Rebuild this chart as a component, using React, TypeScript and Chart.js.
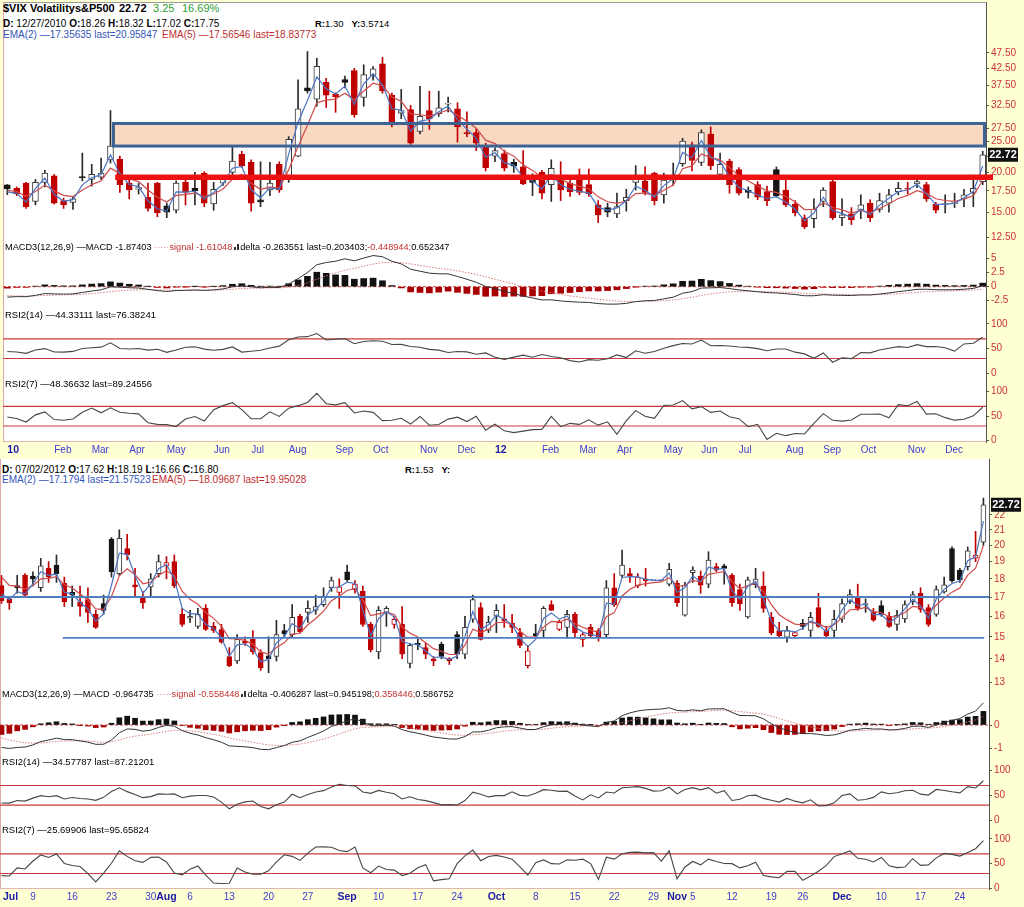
import React, { useEffect, useRef } from 'react';
import { Chart, registerables } from 'chart.js';

Chart.register(...registerables);

const FONT = '"Liberation Sans", Arial, Helvetica, sans-serif';
const RED = '#c00000';
const BLACK = '#151515';
const HOLLOW = '#3a3a3a';
const EMA2_COLOR = '#4a74c4';
const EMA5_COLOR = '#cf4a4a';
const TICK_RED = '#cc3333';
const TXT_RED = '#c03030';
const TXT_BLUE = '#3355bb';
const GREEN = '#2e9e2e';

// ================= TOP PANEL (weekly, 12/27/2010 .. 12/24/2012) =================
const topOpen = [18.26,17.8,18.5,16.2,18.6,19.5,16.3,16.1,19.4,19.0,
  19.3,21.9,22.0,18.5,17.7,16.7,18.5,15.7,15.2,18.6,
  17.8,19.9,15.9,18.5,20.0,22.8,21.5,16.4,17.6,21.2,
  19.5,22.5,36.9,34.0,38.4,35.2,39.2,41.8,34.4,40.4,
  43.9,35.0,30.7,31.5,26.9,31.3,30.6,32.8,31.7,26.7,
  26.7,24.2,22.5,22.9,21.5,20.8,19.0,20.0,18.3,19.0,
  18.5,19.0,18.3,15.8,15.5,14.8,16.3,18.6,18.8,19.9,
  17.0,19.2,21.3,24.4,21.5,26.4,19.7,21.7,20.4,17.6,
  18.3,17.4,20.4,17.6,15.9,14.4,14.3,16.2,18.7,14.4,
  14.8,15.2,16.0,15.3,16.0,17.4,17.75,18.4,18.3,15.9,
  15.85,15.95,16.5,17.3,18.7];
const topHigh = [18.32,18.0,18.6,19.0,20.3,19.7,16.6,16.7,23.0,21.2,
  22.2,31.3,22.5,19.2,18.5,18.5,18.6,16.0,18.8,18.9,
  20.0,20.1,18.6,19.3,24.0,23.3,21.9,21.6,21.5,21.6,
  25.9,39.1,48.0,45.7,39.5,35.6,40.2,42.5,43.6,43.0,
  46.0,35.5,36.5,32.5,37.3,36.0,36.0,34.5,33.1,31.0,
  27.5,24.7,23.9,23.5,22.0,23.4,19.8,20.3,21.9,21.6,
  19.0,20.5,20.5,16.3,16.0,17.2,17.7,21.0,20.8,20.0,
  19.9,21.4,25.6,24.9,27.2,27.8,23.0,22.0,20.7,18.0,
  18.7,18.1,20.8,19.0,16.3,14.7,16.5,17.9,19.0,16.5,
  15.5,17.0,16.4,17.2,17.7,18.6,18.6,19.1,18.6,16.1,
  17.0,17.2,17.7,19.6,23.3];
const topLow = [17.02,16.9,15.4,15.8,18.0,15.9,15.4,15.3,18.8,18.1,
  19.0,21.4,17.3,16.5,17.1,15.1,14.5,14.4,14.9,15.8,
  15.8,15.6,15.2,18.2,19.6,20.7,15.1,15.6,16.9,17.3,
  18.6,22.4,35.5,32.3,32.0,30.9,36.9,29.8,32.3,39.0,
  35.5,27.8,29.5,24.5,26.4,27.3,30.0,31.0,24.9,25.9,
  23.4,20.2,21.6,20.2,20.0,18.3,16.9,16.5,16.2,16.3,
  16.8,17.0,16.8,13.9,14.5,14.4,15.1,17.6,17.0,15.8,
  16.0,18.2,20.9,20.2,21.0,20.4,19.5,17.2,17.0,16.6,
  16.4,15.7,16.7,15.6,14.6,13.3,13.4,15.6,14.2,13.6,
  13.7,14.3,14.0,15.0,15.0,17.0,17.1,17.9,16.2,14.9,
  14.9,15.5,15.6,15.6,18.3];
const topClose = [17.75,17.1,15.6,18.6,19.9,16.0,15.8,16.5,19.2,19.7,
  19.9,24.2,18.3,17.6,17.9,15.4,14.9,15.0,18.5,17.3,
  17.5,16.0,17.7,19.0,21.7,21.0,16.0,16.15,18.5,17.6,
  25.4,31.7,36.1,43.1,35.0,34.6,38.4,30.4,40.6,42.3,
  36.1,28.7,31.3,24.7,30.0,29.5,31.9,33.0,27.8,26.4,
  24.7,20.7,23.4,20.6,20.9,18.4,18.6,17.2,20.6,17.6,
  17.4,17.3,17.15,14.7,15.0,15.6,16.7,19.0,17.3,16.3,
  18.9,19.6,25.1,21.8,26.7,21.0,21.2,18.3,17.2,17.3,
  16.7,16.3,16.9,15.8,14.9,13.5,15.3,17.6,14.4,14.7,
  14.2,15.8,14.4,16.3,17.0,17.8,17.7,18.7,16.5,15.2,
  15.9,16.0,17.0,17.8,22.72];
const topPriorClose = 16.5;
const topSeeds = { ema2: 17.35635, ema5: 17.56546, macd: -1.87403, signal: -1.61048, rsi14: 44.33111, rsi7: 48.36632 };
const topXTickIndex = [0,5,9,13,17,22,26,30,35,39,44,48,52,57,61,65,70,74,78,83,87,91,96,100];
const topXTickLabels = ['10','Feb','Mar','Apr','May','Jun','Jul','Aug','Sep','Oct','Nov','Dec','12','Feb','Mar','Apr','May','Jun','Jul','Aug','Sep','Oct','Nov','Dec'];
const topXTickBold = topXTickLabels.map(s => s === '10' || s === '12');
const topPriceTicks = [12.5,15,17.5,20,22.5,25,27.5,32.5,37.5,42.5,47.5];
const topMacdTicks = [-2.5,0,2.5,5];
const topZone = { low: 24.2, high: 28.5, fromIndex: 11.32 };
const topSupport = { value: 19.3, fromIndex: 11.5 };

// ================= BOTTOM PANEL (daily, 07/02/2012 .. 12/28/2012) =================
const botOpen = [17.62,16.9,17.62,18.2,18.15,17.5,18.6,18.8,17.75,17.25,
  16.74,16.86,16.1,16.65,20.4,18.3,19.8,17.67,17.0,17.55,
  18.3,18.75,19.0,16.1,15.9,15.5,16.4,15.5,15.35,14.1,
  13.9,14.8,14.88,14.27,14.13,14.1,15.3,15.1,16.0,16.2,
  16.3,16.6,17.5,17.25,18.4,17.4,17.3,15.6,14.3,16.2,
  15.6,15.6,13.8,14.7,14.5,14.0,14.65,14.0,15.1,14.2,
  15.85,16.45,15.3,16.0,15.87,15.66,15.2,13.7,15.15,15.3,
  16.6,15.35,15.45,16.1,14.88,15.45,15.3,15.1,17.5,18.2,
  18.3,17.6,18.0,17.9,17.9,17.7,17.75,16.05,18.35,18.15,
  17.7,18.7,18.75,18.2,17.4,15.97,17.67,17.6,15.95,15.3,
  14.98,15.05,15.65,15.3,16.45,15.3,15.3,15.85,16.75,17.0,
  16.6,16.2,16.55,16.0,15.6,15.87,16.75,17.2,16.45,16.1,
  17.27,19.8,18.5,18.7,19.2,20.2];
const botHigh = [18.19,17.0,18.2,18.3,18.4,19.2,19.0,19.4,18.1,17.6,
  17.6,17.5,16.3,17.1,20.5,21.0,20.7,18.6,17.3,18.3,
  19.4,19.3,19.4,16.4,16.3,16.4,16.6,15.7,15.6,14.5,
  15.1,15.0,15.3,14.4,15.0,15.8,15.6,16.6,16.1,16.8,
  17.1,17.5,18.1,18.0,18.8,17.9,17.6,15.7,16.5,16.5,
  16.0,16.5,14.7,14.9,14.7,14.1,14.75,14.05,15.25,16.0,
  17.1,16.7,16.0,16.6,16.6,16.1,15.4,14.6,15.6,16.5,
  16.8,15.8,16.3,16.2,15.2,15.6,15.4,17.9,18.3,19.7,
  18.6,18.3,18.6,17.9,17.9,18.9,17.9,17.8,18.7,18.45,
  19.6,18.9,18.85,18.3,17.7,18.1,18.6,18.4,16.2,15.7,
  15.5,15.2,15.85,16.2,17.2,15.5,16.3,16.9,17.4,17.7,
  16.9,16.4,16.8,16.2,16.3,16.8,17.3,17.5,16.6,17.6,
  18.1,19.9,18.6,19.9,20.9,23.2];
const botLow = [16.66,16.35,17.2,17.0,17.6,17.3,17.8,17.8,16.5,16.5,
  16.0,15.7,15.4,16.1,18.1,18.2,19.1,17.0,16.4,17.0,
  18.1,18.0,17.5,15.5,15.7,15.4,15.3,15.2,14.7,13.65,
  13.8,14.6,14.2,13.5,13.4,13.9,15.0,15.0,15.2,15.7,
  16.1,16.5,17.3,16.4,17.85,17.2,15.5,14.3,14.0,15.5,
  15.4,14.0,13.6,14.4,14.0,13.7,14.0,13.75,14.0,14.0,
  15.7,14.85,15.2,15.2,15.45,15.2,14.5,13.6,14.95,14.95,
  16.3,15.3,14.95,14.95,14.55,15.0,14.8,15.0,16.5,18.1,
  17.8,17.5,17.6,17.9,17.9,17.6,16.5,16.0,17.8,17.2,
  17.5,18.4,17.7,16.5,16.3,15.9,17.5,16.2,15.1,15.0,
  14.75,15.0,15.35,15.0,15.45,15.0,14.95,15.7,16.65,16.3,
  16.2,15.75,16.0,15.45,15.3,15.7,16.6,16.2,15.5,16.0,
  17.2,17.8,17.8,18.5,19.0,20.0];
const botClose = [16.80,16.7,17.5,17.1,18.0,18.75,18.1,18.3,16.75,17.13,
  16.5,16.2,15.45,16.3,18.4,20.45,19.4,17.55,16.7,18.0,
  19.0,18.95,17.6,15.6,16.0,16.1,15.35,15.3,14.75,13.7,
  14.88,14.7,14.3,13.6,14.0,15.1,15.15,15.95,15.25,16.4,
  16.5,17.0,17.9,17.55,17.95,17.7,15.6,14.4,16.3,16.4,
  15.85,14.2,14.6,14.62,14.2,13.9,14.1,13.9,14.2,15.45,
  16.86,14.88,15.7,16.3,15.75,15.45,14.6,14.35,15.05,16.4,
  16.3,15.7,16.1,15.2,15.1,15.05,15.0,17.5,16.6,18.8,
  18.15,18.1,17.9,17.9,17.9,18.55,16.7,17.65,18.5,17.65,
  19.1,18.5,18.6,16.7,16.65,17.95,17.98,16.4,15.2,15.05,
  15.3,15.2,15.5,15.95,15.5,15.05,15.85,16.65,17.13,16.4,
  16.65,15.8,16.1,15.5,16.05,16.6,17.13,16.35,15.6,17.4,
  17.67,17.9,17.95,19.65,19.4,22.72];
const botPriorClose = 17.08;
const botSeeds = { ema2: 17.1794, ema5: 18.09687, macd: -0.964735, signal: -0.558448, rsi14: 34.57787, rsi7: 25.69906 };
const botXTickIndex = [0,4,9,14,19,21,24,29,34,39,44,48,53,58,63,68,73,78,83,86,88,93,98,102,107,112,117,122];
const botXTickLabels = ['Jul','9','16','23','30','Aug','6','13','20','27','Sep','10','17','24','Oct','8','15','22','29','Nov','5','12','19','26','Dec','10','17','24'];
const botXTickBold = botXTickLabels.map(s => /^[A-Z]/.test(s));
const botPriceTicks = [13,14,15,16,17,18,19,20,21,22];
const botMacdTicks = [-1, 0];
const botLevels = [
  { value: 17.0, fromIndex: -0.19, toIndex: 125.71 },
  { value: 14.95, fromIndex: 7.8, toIndex: 125.1 },
];

const rsiTicks = [0, 50, 100];
const rsiBands = [30, 70];

// ================= indicator helpers =================
function emaSeries(src: number[], n: number, seed: number): number[] {
  const a = 2 / (n + 1);
  const out = [seed];
  for (let i = 1; i < src.length; i++) out.push(a * src[i] + (1 - a) * out[i - 1]);
  return out;
}
// simple (Cutler) RSI over an n-bar window; bars before the first one use the seeded balance
function rsiSeries(close: number[], n: number, seed: number): number[] {
  let s = 0;
  for (let i = 1; i <= n; i++) s += Math.abs(close[i] - close[i - 1]);
  s /= n;
  const g0 = (s * seed) / 100;
  const l0 = s - g0;
  const out = [seed];
  for (let i = 1; i < close.length; i++) {
    let g = 0, l = 0;
    for (let k = i - n + 1; k <= i; k++) {
      if (k < 1) { g += g0; l += l0; }
      else {
        const ch = close[k] - close[k - 1];
        if (ch > 0) g += ch; else l -= ch;
      }
    }
    out.push(g + l === 0 ? 50 : (100 * g) / (g + l));
  }
  return out;
}
function indicators(close: number[], seeds: any) {
  const ema2 = emaSeries(close, 2, seeds.ema2);
  const ema5 = emaSeries(close, 5, seeds.ema5);
  const e12 = emaSeries(close, 12, seeds.ema5);
  const e26 = emaSeries(close, 26, seeds.ema5 - seeds.macd);
  const macd = e12.map((v, i) => v - e26[i]);
  const signal = emaSeries(macd, 9, seeds.signal);
  const hist = macd.map((v, i) => v - signal[i]);
  return { ema2, ema5, macd, signal, hist, rsi14: rsiSeries(close, 14, seeds.rsi14), rsi7: rsiSeries(close, 7, seeds.rsi7) };
}

type Geom = { plotLeft: number; plotRight: number; xMin: number; xMax: number; bodyW: number };
const TOP_G: Geom = { plotLeft: 3, plotRight: 986, xMin: -0.46, xMax: 104.35, bodyW: 6 };
const BOT_G: Geom = { plotLeft: 0, plotRight: 989, xMin: -0.19, xMax: 125.71, bodyW: 5 };

// ================= plugin =================
function extras(o: any) {
  return {
    id: 'extras',
    beforeDatasetsDraw(chart: any) {
      const { ctx, chartArea: a, scales } = chart;
      const x = scales.x, y = scales.y;
      ctx.save();
      if (o.zone) {
        const x0 = x.getPixelForValue(o.zone.fromIndex);
        const y0 = y.getPixelForValue(o.zone.high);
        const y1 = y.getPixelForValue(o.zone.low);
        ctx.fillStyle = '#f9d9c2';
        ctx.fillRect(x0, y0, a.right - 1.5 - x0, y1 - y0);
      }
      (o.backLines || []).forEach((h: any) => drawH(ctx, a, x, y, h));
      ctx.restore();
    },
    afterDatasetsDraw(chart: any) {
      const { ctx, chartArea: a, scales } = chart;
      const x = scales.x, y = scales.y;
      ctx.save();
      if (o.zone) {
        const x0 = x.getPixelForValue(o.zone.fromIndex);
        const y0 = y.getPixelForValue(o.zone.high);
        const y1 = y.getPixelForValue(o.zone.low);
        ctx.strokeStyle = '#3d6294';
        ctx.lineWidth = 3;
        ctx.strokeRect(x0, y0, a.right - 1.5 - x0, y1 - y0);
      }
      (o.lines || []).forEach((h: any) => drawH(ctx, a, x, y, h));
      ctx.restore();
    },
    afterDraw(chart: any) {
      const { ctx, chartArea: a, scales } = chart;
      const x = scales.x, y = scales.y;
      ctx.save();
      if (o.lastValue !== undefined) {
        const yy = y.getPixelForValue(o.lastValue);
        ctx.fillStyle = '#111';
        ctx.fillRect(a.right + 2, yy - 7, 30, 14);
        ctx.fillStyle = '#fff';
        ctx.font = 'bold 11px ' + FONT;
        ctx.textAlign = 'center';
        ctx.textBaseline = 'middle';
        ctx.fillText(o.lastValue.toFixed(2), a.right + 17, yy + 0.5);
      }
      if (o.xLabels) {
        const L = o.xLabels;
        ctx.textBaseline = 'middle';
        ctx.textAlign = 'left';
        L.index.forEach((idx: number, k: number) => {
          const px = x.getPixelForValue(idx);
          ctx.font = (L.bold[k] ? 'bold 10.5px ' : '10px ') + FONT;
          ctx.fillStyle = L.bold[k] ? '#1a1aa6' : '#3c3cd0';
          const w = ctx.measureText(L.text[k]).width;
          let left = L.align === 'left' ? px : px - w / 2;
          left = Math.max(left, 3);
          ctx.fillText(L.text[k], left, a.bottom + 8.5);
        });
      }
      ctx.restore();
    },
  };
}
function drawH(ctx: any, a: any, x: any, y: any, h: any) {
  const yy = y.getPixelForValue(h.value);
  const xa = h.fromIndex !== undefined ? x.getPixelForValue(h.fromIndex) : a.left;
  const xb = h.toIndex !== undefined ? x.getPixelForValue(h.toIndex) : a.right + (h.overshoot || 0);
  ctx.beginPath();
  ctx.setLineDash(h.dash || []);
  ctx.strokeStyle = h.color;
  ctx.lineWidth = h.width;
  ctx.moveTo(xa, yy);
  ctx.lineTo(xb, yy);
  ctx.stroke();
  ctx.setLineDash([]);
}

// ================= config builders =================
function yAxis(g: Geom, type: string, min: number, max: number, ticks: number[], fmt: (v: number) => string) {
  return {
    type, position: 'right', min, max, bounds: 'data', grace: 0,
    afterFit: (s: any) => { s.width = 1024 - g.plotRight; s.paddingTop = 0; s.paddingBottom = 0; },
    afterBuildTicks: (s: any) => { s.ticks = ticks.map(v => ({ value: v })); },
    ticks: { color: TICK_RED, font: { family: FONT, size: 10 }, padding: 2, autoSkip: false, maxRotation: 0, callback: (v: any) => fmt(Number(v)) },
    grid: { display: true, drawOnChartArea: false, drawTicks: true, tickLength: 3, color: '#555', lineWidth: 1 },
    border: { display: true, color: '#555', width: 1 },
  };
}
function baseOptions(g: Geom, y: any, bottomPad: number) {
  return {
    responsive: false, animation: false, devicePixelRatio: 1, events: [],
    layout: { autoPadding: false, padding: { left: g.plotLeft, right: 0, top: 0, bottom: bottomPad } },
    plugins: { legend: { display: false }, tooltip: { enabled: false } },
    scales: {
      x: { type: 'linear', display: false, min: g.xMin, max: g.xMax, bounds: 'data', offset: false },
      y,
    },
  };
}
const pts = (arr: number[]) => arr.map((v, i) => ({ x: i, y: v }));

function pricePanel(g: Geom, o: number[], h: number[], l: number[], c: number[], prior: number, seeds: any,
  yMin: number, yMax: number, ticks: number[], fmt: (v: number) => string, ex: any) {
  const ind = indicators(c, seeds);
  const colors = c.map((v, i) => (v < (i ? c[i - 1] : prior) ? RED : BLACK));
  const hollow = c.map((v, i) => v >= o[i]);
  return {
    type: 'bar',
    data: {
      datasets: [
        { type: 'line', data: pts(ind.ema2), borderColor: EMA2_COLOR, borderWidth: 1.2, pointRadius: 0, tension: 0, order: 0 },
        { type: 'line', data: pts(ind.ema5), borderColor: EMA5_COLOR, borderWidth: 1.2, pointRadius: 0, tension: 0, order: 0 },
        {
          type: 'bar', data: o.map((ov, i) => ({ x: i, y: [Math.min(ov, c[i]), Math.max(ov, c[i])] })),
          backgroundColor: hollow.map((hw, i) => (hw ? '#ffffff' : colors[i])),
          borderColor: colors.map((col, i) => (hollow[i] && col === BLACK ? HOLLOW : col)),
          borderWidth: 1, borderSkipped: false, barThickness: g.bodyW, grouped: false, minBarLength: 1, order: 1,
        },
        {
          type: 'bar', data: l.map((lv, i) => ({ x: i, y: [lv, h[i]] })),
          backgroundColor: colors.map(col => (col === BLACK ? '#2a2a2a' : col)),
          borderWidth: 0, barThickness: 1, grouped: false, order: 2,
        },
      ],
    },
    options: baseOptions(g, yAxis(g, 'logarithmic', yMin, yMax, ticks, fmt), 0),
    plugins: [extras(ex)],
  };
}
function macdPanel(g: Geom, c: number[], seeds: any, yMin: number, yMax: number, ticks: number[]) {
  const ind = indicators(c, seeds);
  return {
    type: 'bar',
    data: {
      datasets: [
        { type: 'line', data: pts(ind.macd), borderColor: '#333', borderWidth: 1, pointRadius: 0, tension: 0, order: 0 },
        { type: 'line', data: pts(ind.signal), borderColor: '#dc7a7a', borderWidth: 1, borderDash: [1.5, 1.5], pointRadius: 0, tension: 0, order: 1 },
        { type: 'bar', data: pts(ind.hist), backgroundColor: ind.hist.map(v => (v >= 0 ? '#111' : '#a80000')), barThickness: g.bodyW, grouped: false, order: 2 },
      ],
    },
    options: baseOptions(g, yAxis(g, 'linear', yMin, yMax, ticks, v => String(v)), 0),
    plugins: [extras({ backLines: [{ value: 0, color: '#d04040', width: 1, dash: [3, 2] }] })],
  };
}
function rsiPanel(g: Geom, c: number[], seeds: any, which: 'rsi14' | 'rsi7', yMin: number, yMax: number, bottomPad: number, xLabels?: any) {
  const ind: any = indicators(c, seeds);
  return {
    type: 'line',
    data: { datasets: [{ data: pts(ind[which]), borderColor: '#474747', borderWidth: 1.1, pointRadius: 0, tension: 0 }] },
    options: baseOptions(g, yAxis(g, 'linear', yMin, yMax, rsiTicks, v => String(v)), bottomPad),
    plugins: [extras({ backLines: rsiBands.map(v => ({ value: v, color: '#c93a3a', width: 1.2 })), xLabels })],
  };
}

const fmt2 = (v: number) => v.toFixed(2);
const fmt0 = (v: number) => String(Math.round(v));

const PANELS = [
  { top: 40, height: 203, make: () => pricePanel(TOP_G, topOpen, topHigh, topLow, topClose, topPriorClose, topSeeds, 11.99, 52.17, topPriceTicks, fmt2, {
      zone: topZone,
      lines: [{ value: topSupport.value, fromIndex: topSupport.fromIndex, color: '#ee1111', width: 5.5, overshoot: 7 }],
      lastValue: topClose[topClose.length - 1],
    }) },
  { top: 243, height: 69, make: () => macdPanel(TOP_G, topClose, topSeeds, -4.52, 7.8, topMacdTicks) },
  { top: 312, height: 68, make: () => rsiPanel(TOP_G, topClose, topSeeds, 'rsi14', -13.6, 124.3, 0) },
  { top: 380, height: 78, make: () => rsiPanel(TOP_G, topClose, topSeeds, 'rsi7', -2.65, 123.9, 16, { index: topXTickIndex, text: topXTickLabels, bold: topXTickBold, align: 'left' }) },
  { top: 486, height: 204, make: () => pricePanel(BOT_G, botOpen, botHigh, botLow, botClose, botPriorClose, botSeeds, 12.69, 24.1, botPriceTicks, fmt0, {
      lines: botLevels.map(b => ({ value: b.value, fromIndex: b.fromIndex, toIndex: b.toIndex, color: '#4f7fbf', width: 1.8 })),
      lastValue: botClose[botClose.length - 1],
    }) },
  { top: 690, height: 68, make: () => macdPanel(BOT_G, botClose, botSeeds, -1.416, 1.502, botMacdTicks) },
  { top: 758, height: 69, make: () => rsiPanel(BOT_G, botClose, botSeeds, 'rsi14', -14.2, 125.8, 0) },
  { top: 827, height: 80, make: () => rsiPanel(BOT_G, botClose, botSeeds, 'rsi7', -1.42, 124.3, 18, { index: botXTickIndex, text: botXTickLabels, bold: botXTickBold, align: 'center' }) },
];

function Txt(props: any) {
  const { x, y, size = 10, color = '#000', bold = false, children } = props;
  return (
    <div style={{ position: 'absolute', left: x, top: y, fontSize: size, lineHeight: `${size}px`, color, fontWeight: bold ? 700 : 400, whiteSpace: 'pre', fontFamily: FONT }}>
      {children}
    </div>
  );
}
const Icon = () => (
  <span style={{ display: 'inline-block', margin: '0 1px 0 2px', verticalAlign: 'baseline' }}>
    <span style={{ display: 'inline-block', width: 2, height: 3, background: '#333', marginRight: 1 }} />
    <span style={{ display: 'inline-block', width: 2, height: 6, background: '#333' }} />
  </span>
);

export default function App() {
  const refs = useRef<(HTMLCanvasElement | null)[]>([]);
  useEffect(() => {
    const charts = PANELS.map((p, i) => new Chart(refs.current[i] as HTMLCanvasElement, p.make() as any));
    return () => charts.forEach(ch => ch.destroy());
  }, []);

  return (
    <div style={{ position: 'absolute', left: 0, top: 0, width: 1024, height: 907, background: '#ffffd4', overflow: 'hidden', fontFamily: FONT }}>
      <div style={{ position: 'absolute', left: 3, top: 2, width: 984, height: 440, background: '#fff', boxSizing: 'border-box', borderTop: '1px solid #9a9a9a', borderLeft: '1px solid #dca8a8', borderRight: '1px solid #555', borderBottom: '1px solid #e3b6b6' }} />
      <div style={{ position: 'absolute', left: 0, top: 459, width: 990, height: 430, background: '#fff', boxSizing: 'border-box', borderLeft: '1px solid #dca8a8', borderRight: '1px solid #555', borderBottom: '1px solid #e3b6b6' }} />

      {PANELS.map((p, i) => (
        <canvas key={i} ref={el => { refs.current[i] = el; }} width={1024} height={p.height}
          style={{ position: 'absolute', left: 0, top: p.top, width: 1024, height: p.height }} />
      ))}

      {/* top header */}
      <Txt x={3} y={3} size={11} bold>{'$VIX Volatilitys&P500'}</Txt>
      <Txt x={119} y={3} size={11} bold>22.72</Txt>
      <Txt x={153} y={3} size={11} color={GREEN}>3.25</Txt>
      <Txt x={182} y={3} size={11} color={GREEN}>16.69%</Txt>
      <Txt x={3} y={19}><b>D:</b> 12/27/2010 <b>O:</b>18.26 <b>H:</b>18.32 <b>L:</b>17.02 <b>C:</b>17.75</Txt>
      <Txt x={315} y={19} size={9.5}><b>R:</b>1.30   <b>Y:</b>3.5714</Txt>
      <Txt x={3} y={30} color={TXT_BLUE}>EMA(2) —17.35635 last=20.95847</Txt>
      <Txt x={162} y={30} color={TXT_RED}>EMA(5) —17.56546 last=18.83773</Txt>

      <Txt x={5} y={242.5} size={9.2}>MACD3(12,26,9) —MACD -1.87403<span style={{ color: '#e08a8a' }}> ·····</span><span style={{ color: TXT_RED }}>signal -1.61048</span><Icon />delta -0.263551 last=0.203403;<span style={{ color: TXT_RED }}>-0.448944;</span>0.652347</Txt>
      <Txt x={5} y={310.3} size={9.5}>RSI2(14) —44.33111 last=76.38241</Txt>
      <Txt x={5} y={378.6} size={9.5}>RSI2(7) —48.36632 last=89.24556</Txt>

      {/* bottom header */}
      <Txt x={2} y={464.6}><b>D:</b> 07/02/2012 <b>O:</b>17.62 <b>H:</b>18.19 <b>L:</b>16.66 <b>C:</b>16.80</Txt>
      <Txt x={405} y={464.6} size={9.5}><b>R:</b>1.53   <b>Y:</b></Txt>
      <Txt x={2} y={475.1} color={TXT_BLUE}>EMA(2) —17.1794 last=21.57523</Txt>
      <Txt x={152} y={475.1} color={TXT_RED}>EMA(5) —18.09687 last=19.95028</Txt>

      <Txt x={2} y={690.3} size={9.2}>MACD3(12,26,9) —MACD -0.964735<span style={{ color: '#e08a8a' }}> ·····</span><span style={{ color: TXT_RED }}>signal -0.558448</span><Icon />delta -0.406287 last=0.945198;<span style={{ color: TXT_RED }}>0.358446;</span>0.586752</Txt>
      <Txt x={2} y={757} size={9.5}>RSI2(14) —34.57787 last=87.21201</Txt>
      <Txt x={2} y={825.2} size={9.5}>RSI2(7) —25.69906 last=95.65824</Txt>
    </div>
  );
}
